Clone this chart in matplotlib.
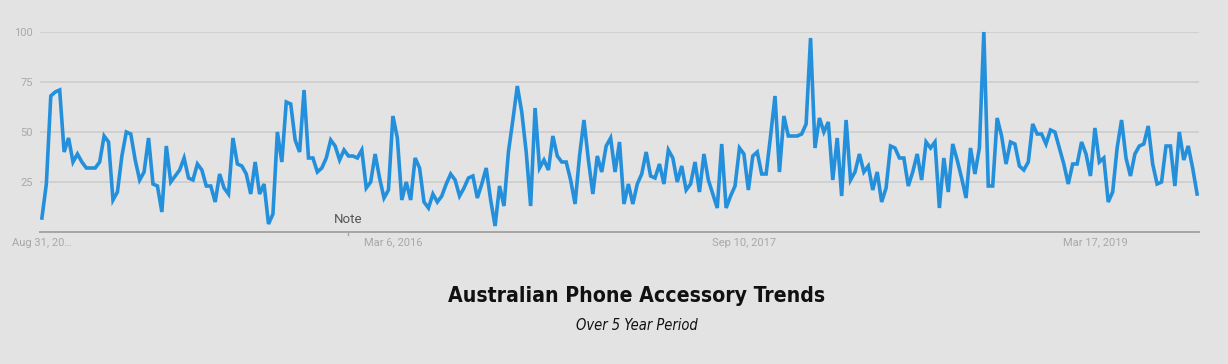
import numpy as np
import pandas as pd
import matplotlib
matplotlib.use("Agg")
import matplotlib.pyplot as plt

# weekly search interest (0-100 scale)
interest = [
    7, 24, 68, 70, 71, 40, 47, 35, 39, 35, 32, 32, 32, 35, 48, 45, 16, 20, 38, 50,
    49, 36, 26, 30, 47, 24, 23, 10, 43, 25, 28, 31, 37, 27, 26, 34, 31, 23, 23, 15,
    29, 22, 19, 47, 34, 33, 29, 19, 35, 19, 24, 4, 9, 50, 35, 65, 64, 46, 40, 71,
    37, 37, 30, 32, 37, 46, 43, 36, 41, 38, 38, 37, 41, 22, 25, 39, 27, 17, 21, 58,
    47, 16, 25, 16, 37, 32, 15, 12, 19, 15, 18, 24, 29, 26, 18, 22, 27, 28, 17, 24,
    32, 16, 3, 23, 13, 40, 56, 73, 60, 40, 13, 62, 32, 36, 31, 48, 38, 35, 35, 26,
    14, 38, 56, 36, 19, 38, 30, 43, 47, 30, 45, 14, 24, 14, 24, 29, 40, 28, 27, 34,
    24, 41, 37, 25, 33, 21, 24, 35, 20, 39, 26, 19, 12, 44, 12, 18, 23, 42, 39, 21,
    38, 40, 29, 29, 48, 68, 30, 58, 48, 48, 48, 49, 54, 97, 42, 57, 50, 55, 26, 47,
    18, 56, 26, 30, 39, 30, 33, 21, 30, 15, 22, 43, 42, 37, 37, 23, 30, 39, 26, 45,
    42, 45, 12, 37, 20, 44, 36, 27, 17, 42, 29, 42, 100, 23, 23, 57, 48, 34, 45, 44,
    33, 31, 35, 54, 49, 49, 44, 51, 50, 42, 34, 24, 34, 34, 45, 39, 28, 52, 35, 37,
    15, 20, 42, 56, 37, 28, 39, 43, 44, 53, 34, 24, 25, 43, 43, 23, 50, 36, 43, 32,
    19,
]
weeks = pd.date_range("2014-08-31", periods=len(interest), freq="7D")

tick_dates = pd.to_datetime(["2014-08-31", "2016-03-06", "2017-09-10", "2019-03-17"])
tick_labels = ["Aug 31, 20\u2026", "Mar 6, 2016", "Sep 10, 2017", "Mar 17, 2019"]
y_ticks = [25, 50, 75, 100]
note_date = pd.Timestamp("2015-12-27")

bg = "#e3e3e3"
fig = plt.figure(figsize=(12.28, 3.64), dpi=100, facecolor=bg)
ax = fig.add_axes([40 / 1228, 1 - 232 / 364, 1159 / 1228, 200 / 364])
ax.set_facecolor(bg)

ax.plot(weeks, interest, color="#2490dc", lw=2.6, solid_joinstyle="miter",
        clip_on=False, zorder=3)

pad = pd.Timedelta(days=3)
ax.set_xlim(weeks[0] - pad, weeks[-1] + pad)
ax.set_ylim(0, 100)

ax.set_yticks(y_ticks)
ax.set_yticklabels([str(v) for v in y_ticks])
ax.set_xticks(tick_dates)
ax.set_xticklabels(tick_labels)
ax.tick_params(axis="both", length=0, labelsize=8, labelcolor="#a8a8a8",
               labelfontfamily="Roboto")
ax.tick_params(axis="y", pad=5)
ax.tick_params(axis="x", pad=4)

ax.grid(axis="y", color="#cbcbcb", lw=1.1)
ax.set_axisbelow(True)
for s in ["top", "right", "left"]:
    ax.spines[s].set_visible(False)
ax.spines["bottom"].set_color("#a6a6a6")
ax.spines["bottom"].set_linewidth(1.4)

# annotation marker
ax.annotate("Note", xy=(note_date, 0), xytext=(note_date, 3.0),
            ha="center", va="bottom", fontsize=9.5, color="#555555",
            family="Roboto")
ax.plot([note_date, note_date], [-1.6, 0], color="#a6a6a6", lw=1, clip_on=False)

fig.text(637 / 1228, 1 - 296 / 364, "Australian Phone Accessory Trends",
         ha="center", va="center", fontsize=15.2, fontweight="bold",
         fontstretch="condensed", family="DejaVu Sans", color="#111111")
fig.text(637 / 1228, 1 - 326 / 364, "Over 5 Year Period",
         ha="center", va="center", fontsize=10.5, style="italic",
         fontstretch="condensed", family="DejaVu Sans", color="#111111")

fig.savefig("out.png", dpi=100, facecolor=bg)
